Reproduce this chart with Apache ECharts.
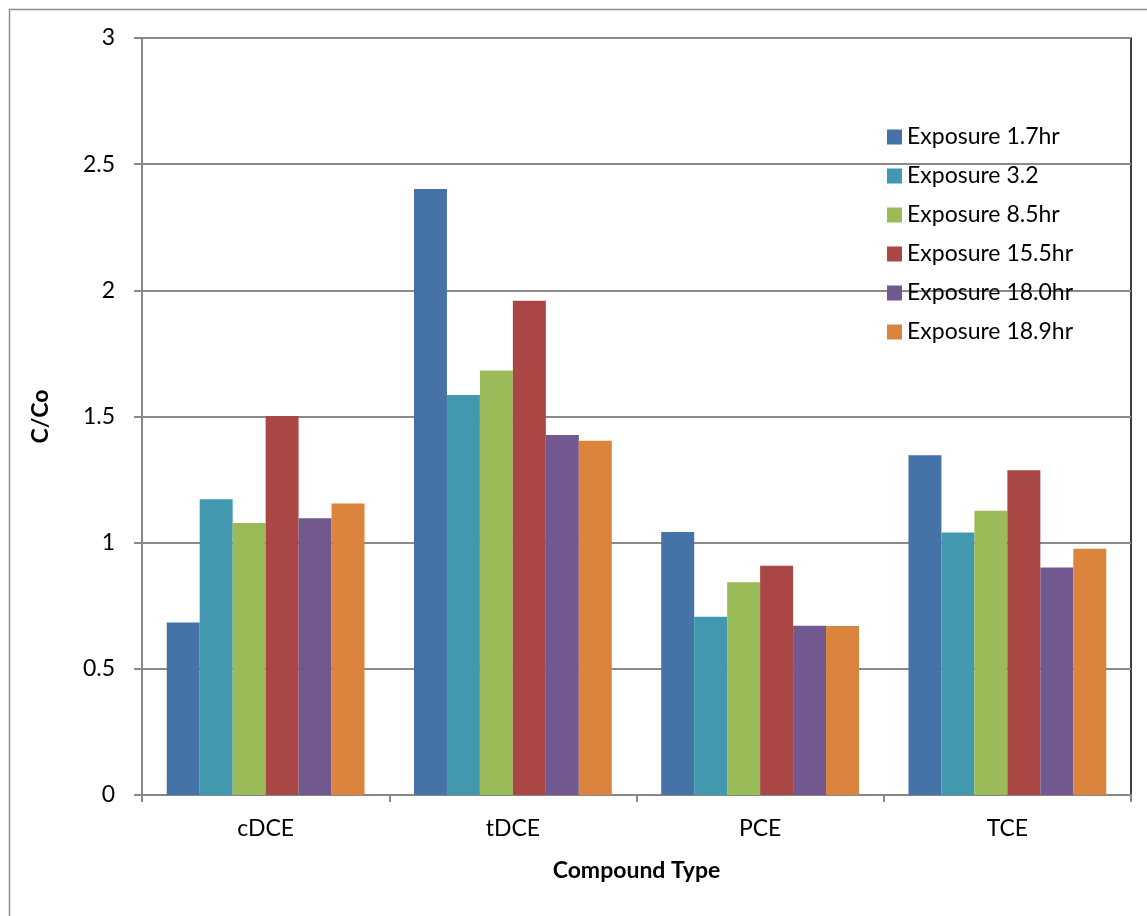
<!DOCTYPE html>
<html>
<head>
<meta charset="utf-8">
<script src="https://cdn.jsdelivr.net/npm/echarts@6/dist/echarts.min.js"></script>
<style>
  html, body { margin: 0; padding: 0; background: #fff; }
  #chart { width: 1147px; height: 916px; }
</style>
</head>
<body>
<div id="chart"></div>
<script>
// Compound categories along the x axis
const compounds = ['cDCE', 'tDCE', 'PCE', 'TCE'];

// C/Co ratio for each exposure time
const exposure17 = [0.684, 2.402, 1.042, 1.346];
const exposure32 = [1.172, 1.585, 0.706, 1.040];
const exposure85 = [1.078, 1.682, 0.843, 1.126];
const exposure155 = [1.502, 1.959, 0.909, 1.287];
const exposure180 = [1.097, 1.427, 0.671, 0.902];
const exposure189 = [1.155, 1.404, 0.670, 0.976];

const seriesNames = ['Exposure 1.7hr', 'Exposure 3.2', 'Exposure 8.5hr',
  'Exposure 15.5hr', 'Exposure 18.0hr', 'Exposure 18.9hr'];
const seriesData = [exposure17, exposure32, exposure85, exposure155, exposure180, exposure189];
const colors = ['#4572A7', '#4198AF', '#9BBB59', '#AA4643', '#71588F', '#DB843D'];

const FONT = 'Lato, "Open Sans", sans-serif';

const chart = echarts.init(document.getElementById('chart'), null, { renderer: 'canvas' });

chart.setOption({
  animation: false,
  backgroundColor: '#fff',
  color: colors,
  textStyle: { fontFamily: FONT },
  graphic: [{
    type: 'rect',
    shape: { x: 9.5, y: 9.5, width: 1300, height: 1000 },
    style: { fill: 'none', stroke: '#8c8c8c', lineWidth: 1.5 },
    z: -10
  }],
  grid: {
    left: 142, top: 38, width: 989, height: 757,
    show: true, borderColor: '#000', borderWidth: 1.5, backgroundColor: 'transparent'
  },
  legend: {
    orient: 'vertical',
    left: 882, top: 120,
    itemWidth: 15, itemHeight: 15,
    itemGap: 15,
    icon: 'rect',
    textStyle: { fontSize: 23, lineHeight: 24, color: '#000', fontFamily: FONT },
    data: seriesNames
  },
  xAxis: {
    type: 'category',
    data: compounds,
    name: 'Compound Type',
    nameLocation: 'middle',
    nameGap: 64,
    nameTextStyle: { fontSize: 23, fontWeight: 'bold', color: '#000', fontFamily: FONT },
    axisLine: { lineStyle: { color: '#888', width: 2 } },
    axisTick: { show: true, length: 7, lineStyle: { color: '#888', width: 2 } },
    axisLabel: { fontSize: 23, color: '#000', margin: 22, fontFamily: FONT },
    splitLine: { show: false }
  },
  yAxis: {
    type: 'value',
    min: 0, max: 3, interval: 0.5,
    name: 'C/Co',
    nameLocation: 'middle',
    nameGap: 90,
    nameTextStyle: { fontSize: 23, fontWeight: 'bold', color: '#000', fontFamily: FONT },
    axisLine: { show: true, lineStyle: { color: '#888', width: 2 } },
    axisTick: { show: true, length: 8, lineStyle: { color: '#888', width: 2 } },
    axisLabel: { fontSize: 23, color: '#000', margin: 27, fontFamily: FONT },
    splitLine: { show: true, lineStyle: { color: '#8a8a8a', width: 2 } }
  },
  series: seriesNames.map((name, i) => ({
    name: name,
    type: 'bar',
    data: seriesData[i],
    barGap: '0%',
    barCategoryGap: '20%',
    itemStyle: { color: colors[i] }
  }))
});
</script>
</body>
</html>
